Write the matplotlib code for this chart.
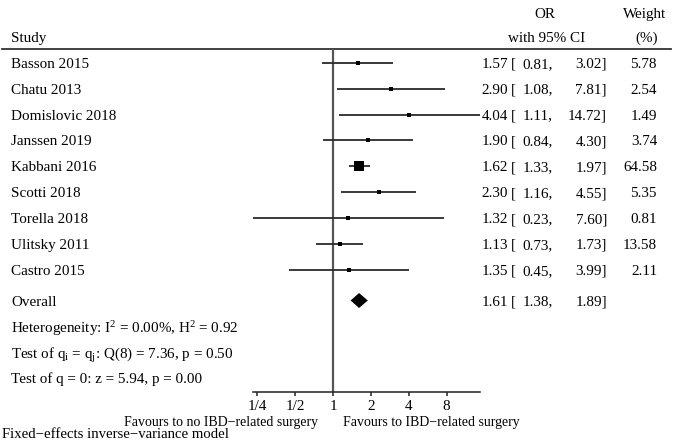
import matplotlib
matplotlib.use("Agg")
import matplotlib.pyplot as plt
import numpy as np

plt.rcParams['font.family'] = ['Liberation Serif', 'DejaVu Serif']
plt.rcParams['mathtext.fontset'] = 'custom'
plt.rcParams['mathtext.rm'] = 'Liberation Serif'
plt.rcParams['mathtext.it'] = 'Liberation Serif'
plt.rcParams['mathtext.bf'] = 'Liberation Serif'
plt.rcParams['mathtext.default'] = 'regular'

studies = ["Basson 2015", "Chatu 2013", "Domislovic 2018", "Janssen 2019", "Kabbani 2016",
           "Scotti 2018", "Torella 2018", "Ulitsky 2011", "Castro 2015"]
odds = [1.57, 2.90, 4.04, 1.90, 1.62, 2.30, 1.32, 1.13, 1.35]
ci_low = [0.81, 1.08, 1.11, 0.84, 1.33, 1.16, 0.23, 0.73, 0.45]
ci_high = [3.02, 7.81, 14.72, 4.30, 1.97, 4.55, 7.60, 1.73, 3.99]
weights = [5.78, 2.54, 1.49, 3.74, 64.58, 5.35, 0.81, 13.58, 2.11]
overall = (1.61, 1.38, 1.89)
tick_vals = [0.25, 0.5, 1, 2, 4, 8]
tick_labels = ["1/4", "1/2", "1", "2", "4", "8"]
stats_lines = [r"Heterogeneity: I$^2$ = 0.00%, H$^2$ = 0.92",
               r"Test of q$_i$ = q$_j$: Q(8) = 7.36, p = 0.50",
               r"Test of q = 0: z = 5.94, p = 0.00"]

W, H = 673, 441
fig = plt.figure(figsize=(W / 100, H / 100), dpi=100)
ov = fig.add_axes([0, 0, 1, 1])
ov.set_xlim(0, W)
ov.set_ylim(H, 0)
ov.axis('off')

fs = 10.9

# forest axes
x0, x1 = 252.7, 480.0
ytop, ybot = 49, 392
ax = fig.add_axes([x0 / W, (H - ybot) / H, (x1 - x0) / W, (ybot - ytop) / H])
ax.patch.set_alpha(0)
ax.set_xscale('log', base=2)
ax.set_xlim(0.23, 14.72)
ax.set_ylim(ybot, ytop)
for s in ['top', 'left', 'right']:
    ax.spines[s].set_visible(False)
ax.spines['bottom'].set_linewidth(1.1)
ax.spines['bottom'].set_color('#222222')
ax.set_xticks(tick_vals)
ax.set_xticklabels(tick_labels)
ax.xaxis.set_minor_locator(matplotlib.ticker.NullLocator())
ax.tick_params(axis='x', direction='out', length=3, width=1.1, color='#222222',
               labelsize=fs, pad=3)
ax.set_yticks([])

row_y0, row_dy = 62.8, 25.87
row_y = [row_y0 + i * row_dy for i in range(len(studies))]
overall_y = 300.5

ax.axvline(1, color='#555555', lw=1.6, zorder=1)
for y, e, lo, hi, w in zip(row_y, odds, ci_low, ci_high, weights):
    ax.plot([lo, hi], [y, y], color='#2a2a2a', lw=1.3, solid_capstyle='butt', zorder=2)
    ms = max(0.88 * np.sqrt(w), 2.2)
    ax.plot([e], [y], marker='s', ms=ms, color='black', mew=0, zorder=3)

oe, olo, ohi = overall
ax.fill([olo, oe, ohi, oe], [overall_y, overall_y - 7.5, overall_y, overall_y + 7.5],
        color='black', lw=0, zorder=3)

# header
ov.plot([2, 671], [49, 49], color='#333333', lw=1.3)
ov.text(11, 37, "Study", fontsize=fs, va='center_baseline')
ov.text(545, 13, "OR", fontsize=fs, ha='center', va='center_baseline')
ov.text(547, 37, "with 95% CI", fontsize=fs, ha='center', va='center_baseline')
ov.text(645, 13, "Weight", fontsize=fs, ha='center', va='center_baseline')
ov.text(647, 37, "(%)", fontsize=fs, ha='center', va='center_baseline')

def value_cols(y, e, lo, hi, w=None):
    ov.text(508, y, f"{e:.2f}", fontsize=fs, ha='right', va='center_baseline')
    ov.text(511, y, "[", fontsize=fs, ha='left', va='center_baseline')
    ov.text(553, y, f"{lo:.2f},", fontsize=fs, ha='right', va='center_baseline')
    ov.text(607, y, f"{hi:.2f}]", fontsize=fs, ha='right', va='center_baseline')
    if w is not None:
        ov.text(657, y, f"{w:.2f}", fontsize=fs, ha='right', va='center_baseline')

for y, name, e, lo, hi, w in zip(row_y, studies, odds, ci_low, ci_high, weights):
    ov.text(11, y, name, fontsize=fs, va='center_baseline')
    value_cols(y, e, lo, hi, w)

ov.text(11, overall_y, "Overall", fontsize=fs, va='center_baseline')
value_cols(overall_y, oe, olo, ohi)

for i, s in enumerate(stats_lines):
    ov.text(11, 326 + i * 26, s, fontsize=fs, va='center_baseline')

ov.text(318, 421, "Favours to no IBD\u2212related surgery", fontsize=10, ha='right', va='center_baseline')
ov.text(343, 421, "Favours to IBD\u2212related surgery", fontsize=10, ha='left', va='center_baseline')
ov.text(2, 433, "Fixed\u2212effects inverse\u2212variance model", fontsize=10.6, ha='left', va='center_baseline')

fig.savefig("out.png", dpi=100)
